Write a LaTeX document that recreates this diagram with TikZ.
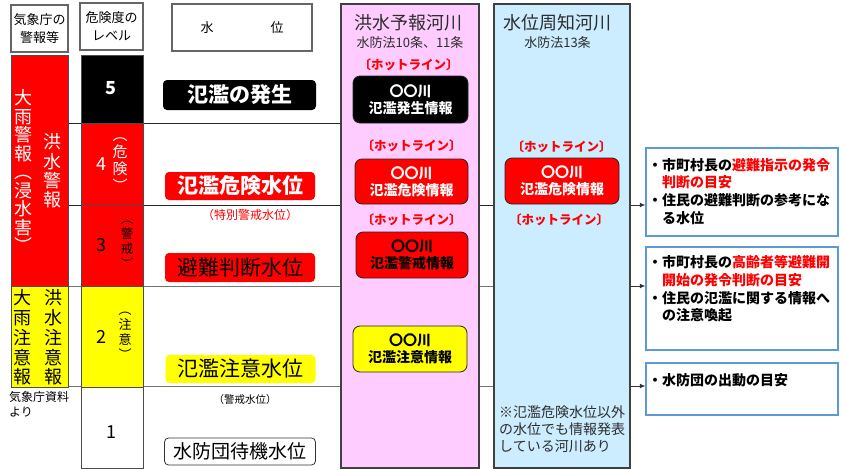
\documentclass[tikz,border=0pt]{standalone}
\usepackage{fontspec}
\setmainfont{Noto Sans CJK JP}
\usetikzlibrary{arrows.meta}
\definecolor{pinkbg}{RGB}{255,204,255}
\definecolor{bluebg}{RGB}{204,236,255}
\definecolor{rbblue}{RGB}{91,155,213}
\definecolor{ylw}{RGB}{255,255,0}
\definecolor{darktext}{RGB}{45,45,45}
\newcommand\jfs[2]{\fontsize{#1}{#2}\selectfont}
\pgfdeclarelayer{bg}
\pgfsetlayers{bg,main}
\tikzset{
 hdr/.style={draw=black!60, line width=1.2pt, fill=white, inner sep=0pt, align=center, font=\jfs{13}{18}},
 lvl/.style={draw=black!70, line width=0.6pt, inner sep=0pt},
 vt/.style={align=center, inner sep=0pt},
 lbl/.style={rounded corners=4pt, inner sep=0pt, font=\jfs{21}{24}},
 info/.style={rounded corners=7pt, draw=black!85, line width=0.8pt, inner sep=0pt, align=center, font=\bfseries\jfs{14}{17}},
 hot/.style={text=red, font=\bfseries\jfs{12.5}{14}, inner sep=0pt},
 col/.style={draw=black!75, line width=1.5pt, inner sep=0pt},
 rbox/.style={draw=rbblue, line width=1.5pt, fill=white, inner sep=0pt},
 rtext/.style={anchor=west, align=left, inner sep=0pt, font=\bfseries\jfs{14}{17.7}},
 arr/.style={-{Latex[length=5.5pt,width=5pt]}, draw=black!80, line width=0.8pt},
 sep/.style={draw=black!85, line width=0.8pt},
 sepg/.style={draw=black!55, line width=0.8pt},
}
\begin{document}
\begin{tikzpicture}[x=1pt,y=-1pt]
\useasboundingbox (0,0) rectangle (844,469);
\coordinate (Y4) at (0,123);
\coordinate (Y3) at (0,205);
\coordinate (Y2) at (0,286);
\coordinate (Y1) at (0,386);

% headers
\node[hdr, minimum width=57, minimum height=47] (hA) at (39.5,28.5) {気象庁の\\警報等};
\node[hdr, minimum width=63, minimum height=47] (hB) at (111.5,26.5) {危険度の\\レベル};
\node[hdr, minimum width=140, minimum height=47] (hC) at (242,27.5) {水\hspace{57pt}位};

% warning column
\node[lvl, fill=red, minimum width=57, minimum height=231] (wR) at (39.5,170.5) {};
\node[lvl, fill=ylw, minimum width=57, minimum height=101] (wY) at (39.5,336.5) {};
\node[vt, text=white, font=\jfs{18}{18.5}] (wR1) at (24,171) {大\\雨\\警\\報\\︵\\浸\\水\\害\\︶};
\node[vt, text=white, font=\jfs{18}{19.3}] (wR2) at (52,171) {洪\\水\\警\\報};
\node[vt, font=\jfs{18}{19.8}] (wY1) at (22,337.5) {大\\雨\\注\\意\\報};
\node[vt, font=\jfs{18}{19.8}] (wY2) at (53,337.5) {洪\\水\\注\\意\\報};
\node[anchor=west, align=left, inner sep=0pt, font=\jfs{12}{15}] (src) at (9,404.5) {気象庁資料\\より};

% level column
\node[lvl, fill=black, minimum width=62, minimum height=68] (l5) at (112,89) {};
\node[lvl, fill=red, minimum width=62, minimum height=81] (l4) at (112,163.5) {};
\node[lvl, fill=red, minimum width=62, minimum height=82] (l3) at (112,245) {};
\node[lvl, fill=ylw, minimum width=62, minimum height=101] (l2) at (112,336.5) {};
\node[lvl, fill=white, minimum width=62, minimum height=81] (l1) at (112,427.5) {};
\node[text=white, font=\bfseries\jfs{18}{20}, inner sep=0pt] (n5) at (111,88) {5};
\node[text=white, font=\jfs{18}{20}, inner sep=0pt] (n4) at (101,164) {4};
\node[vt, text=white, font=\jfs{15}{17}] (p4) at (120,165) {︵\\危\\険\\︶};
\node[font=\jfs{18}{20}, inner sep=0pt] (n3) at (101,245) {3};
\node[vt, font=\jfs{12.5}{15}] (p3) at (127,245) {︵\\警\\戒\\︶};
\node[font=\jfs{18}{20}, inner sep=0pt] (n2) at (101,337) {2};
\node[vt, font=\jfs{13}{15}] (p2) at (125,336) {︵\\注\\意\\︶};
\node[font=\jfs{18}{20}, inner sep=0pt] (n1) at (111,432) {1};

% water-level labels
\node[lbl, fill=black, text=white, font=\bfseries\jfs{21}{24}, minimum width=153, minimum height=30] (wl5) at (239.5,95) {氾濫の発生};
\node[lbl, fill=red, text=white, font=\bfseries\jfs{21}{24}, minimum width=150, minimum height=28] (wl4) at (240,186) {氾濫危険水位};
\node[text=red, font=\jfs{12}{14}, inner sep=0pt] (wl4s) at (250,215) {（特別警戒水位）};
\node[lbl, fill=red, minimum width=150, minimum height=29] (wl3) at (240,267.5) {避難判断水位};
\node[lbl, fill=ylw, minimum width=150, minimum height=28] (wl2) at (240.5,369) {氾濫注意水位};
\node[font=\jfs{10.5}{12}, inner sep=0pt] (wl2s) at (245,400) {（警戒水位）};
\node[lbl, draw=black!80, line width=0.8pt, fill=white, font=\jfs{19}{22}, minimum width=151, minimum height=27] (wl1) at (240,451.5) {水防団待機水位};

% river columns
\node[col, fill=pinkbg, minimum width=138, minimum height=464] (pink) at (410,236) {};
\node[col, fill=bluebg, minimum width=136, minimum height=464] (blue) at (562,236) {};

\node[text=darktext, font=\jfs{18}{20}, inner sep=0pt] (pt1) at (408,23) {洪水予報河川};
\node[text=darktext, font=\jfs{13}{15}, inner sep=0pt] (pt2) at (410,43) {水防法10条、11条};
\node[hot] (h1) at (408.5,65) {〔ホットライン〕};
\node[info, fill=black, text=white, minimum width=115, minimum height=47] (i1) at (410.5,99.5) {〇〇川\\氾濫発生情報};
\node[hot] (h2) at (411.5,146) {〔ホットライン〕};
\node[info, fill=red, text=white, minimum width=113, minimum height=45] (i2) at (411.5,181.5) {〇〇川\\氾濫危険情報};
\node[hot] (h3) at (411.5,220) {〔ホットライン〕};
\node[info, fill=red, minimum width=112, minimum height=46] (i3) at (412,255) {〇〇川\\氾濫警戒情報};
\node[info, fill=ylw, minimum width=114, minimum height=46] (i4) at (410,349) {〇〇川\\氾濫注意情報};

\node[text=darktext, font=\jfs{18}{20}, inner sep=0pt] (bt1) at (557,23) {水位周知河川};
\node[text=darktext, font=\jfs{13}{15}, inner sep=0pt] (bt2) at (557.5,43) {水防法13条};
\node[hot] (h4) at (561.5,147) {〔ホットライン〕};
\node[info, fill=red, text=white, minimum width=114, minimum height=46] (i5) at (562,181) {〇〇川\\氾濫危険情報};
\node[hot] (h5) at (559,220) {〔ホットライン〕};
\node[anchor=west, align=left, inner sep=0pt, text=darktext, font=\jfs{14}{17}] (note) at (499,429) {※氾濫危険水位以外\\の水位でも情報発表\\している河川あり};

% right boxes
\node[rbox, minimum width=192, minimum height=88] (rb1) at (742,192) {};
\node[rbox, minimum width=192, minimum height=103] (rb2) at (742,298.5) {};
\node[rbox, minimum width=192, minimum height=52] (rb3) at (742,389) {};
\node[rtext] (t1) at (648,191.5) {・市町村長の\textcolor{red}{避難指示の発令}\\\hspace*{1em}\textcolor{red}{判断の目安}\\・住民の避難判断の参考にな\\\hspace*{1em}る水位};
\node[rtext] (t2) at (648,289) {・市町村長の\textcolor{red}{高齢者等避難開}\\\hspace*{1em}\textcolor{red}{開始の発令判断の目安}\\・住民の氾濫に関する情報へ\\\hspace*{1em}の注意喚起};
\node[rtext] (t3) at (648,380) {・水防団の出動の目安};

% separator lines
\begin{pgfonlayer}{bg}
\draw[sep] (wR.east |- Y4) -- (pink.west |- Y4);
\draw[sep] (wR.east |- Y3) -- (blue.west |- Y3);
\draw[sepg] (wR.east |- Y2) -- (blue.west |- Y2);
\draw[sepg] (wY.east |- Y1) -- (blue.west |- Y1);
\end{pgfonlayer}

% arrows
\draw[arr] (blue.east |- Y3) -- (rb1.west |- Y3);
\draw[arr] (blue.east |- Y2) -- (rb2.west |- Y2);
\draw[arr] (blue.east |- Y1) -- (rb3.west |- Y1);
\end{tikzpicture}
\end{document}
